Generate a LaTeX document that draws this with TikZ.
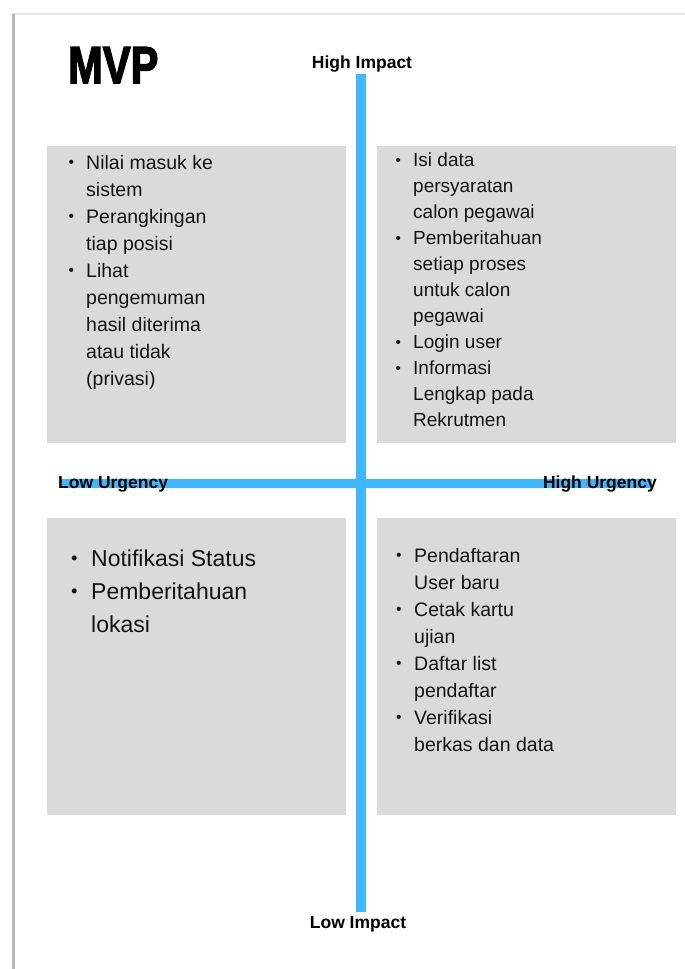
\documentclass[tikz,border=0pt]{standalone}
\usepackage{fontspec}
\setmainfont{Liberation Sans}
\usepackage{graphicx}
\definecolor{boxgray}{RGB}{218,218,218}
\definecolor{axisblue}{RGB}{61,184,255}
\definecolor{textdark}{RGB}{20,20,20}
\newcommand\mybul{\raisebox{0.07em}{\scalebox{0.8}{\textbullet}}}
\begin{document}
\begin{tikzpicture}[x=1pt,y=-1pt,
  quad/.style={fill=boxgray, draw=none, inner sep=0pt, minimum width=299pt, minimum height=297pt, anchor=north west},
  axisline/.style={draw=axisblue, line width=9.5pt},
  lbl/.style={font=\fontsize{17.5}{20}\selectfont\bfseries, inner sep=0pt, text=black},
  items/.style={inner sep=0pt, anchor=base west, text=textdark}]
\useasboundingbox (0,0) rectangle (685,969);
\fill[white] (0,0) rectangle (685,969);
% page edge shadow
\draw[gray!20, line width=1.5pt] (12,14) -- (685,14);
\draw[gray!55, line width=2.5pt] (13.5,14) -- (13.5,969);

% quadrant boxes
\node[quad] (tlbox) at (47,146) {};
\node[quad] (trbox) at (377,146) {};
\node[quad] (blbox) at (47,518) {};
\node[quad] (brbox) at (377,518) {};

% axes
\coordinate (vtop) at (361,74);
\coordinate (vbot) at (361,912);
\coordinate (hleft) at (60,483.5);
\coordinate (hright) at (652,483.5);
\draw[axisline] (vtop) -- (vbot);
\draw[axisline] (hleft) -- (hright);

% axis labels
\node[lbl, anchor=base] (hiimp) at (362,68) {High Impact};
\node[lbl, anchor=base west] (lowurg) at (58,488) {Low Urgency};
\node[lbl, anchor=base east] (hiurg) at (657,488) {High Urgency};
\node[lbl, anchor=base] (lowimp) at (358,928) {Low Impact};

% title
\node[anchor=base west, inner sep=0pt] (mvp) at (68,83)
  {\scalebox{0.8}[1]{\fontsize{52}{52}\selectfont\bfseries\addfontfeature{FakeBold=3}MVP}};

% lists
\node[items] (tltext) at (68.5,169) {\fontsize{19.5}{27}\selectfont
  \begin{tabular}[t]{@{}p{17.5pt}@{}l@{}}
  \mybul & Nilai masuk ke\\
  & sistem\\
  \mybul & Perangkingan\\
  & tiap posisi\\
  \mybul & Lihat\\
  & pengemuman\\
  & hasil diterima\\
  & atau tidak\\
  & (privasi)
  \end{tabular}};

\node[items] (trtext) at (395.5,166.5) {\fontsize{19}{26}\selectfont
  \begin{tabular}[t]{@{}p{17.5pt}@{}l@{}}
  \mybul & Isi data\\
  & persyaratan\\
  & calon pegawai\\
  \mybul & Pemberitahuan\\
  & setiap proses\\
  & untuk calon\\
  & pegawai\\
  \mybul & Login user\\
  \mybul & Informasi\\
  & Lengkap pada\\
  & Rekrutmen
  \end{tabular}};

\node[items] (bltext) at (71,566) {\fontsize{23}{33}\selectfont
  \begin{tabular}[t]{@{}p{20pt}@{}l@{}}
  \mybul & Notifikasi Status\\
  \mybul & Pemberitahuan\\
  & lokasi
  \end{tabular}};

\node[items] (brtext) at (396,562) {\fontsize{19.5}{27}\selectfont
  \begin{tabular}[t]{@{}p{18pt}@{}l@{}}
  \mybul & Pendaftaran\\
  & User baru\\
  \mybul & Cetak kartu\\
  & ujian\\
  \mybul & Daftar list\\
  & pendaftar\\
  \mybul & Verifikasi\\
  & berkas dan data
  \end{tabular}};
\end{tikzpicture}
\end{document}
